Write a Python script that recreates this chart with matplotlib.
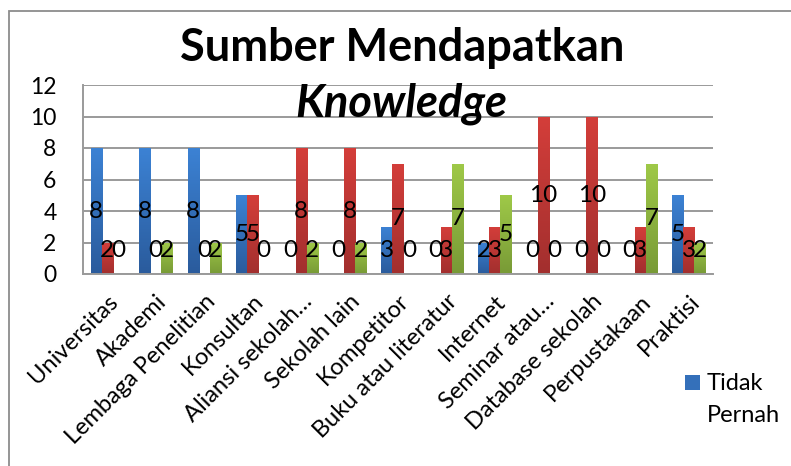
import matplotlib
matplotlib.use("Agg")
import matplotlib.pyplot as plt
import numpy as np
from matplotlib.patches import Rectangle
from matplotlib.colors import LinearSegmentedColormap

plt.rcParams['font.family'] = ['Lato', 'DejaVu Sans']

categories = ["Universitas", "Akademi", "Lembaga Penelitian", "Konsultan",
              "Aliansi sekolah…", "Sekolah lain", "Kompetitor",
              "Buku atau literatur", "Internet", "Seminar atau…",
              "Database sekolah", "Perpustakaan", "Praktisi"]
tidak_pernah = [8, 8, 8, 5, 0, 0, 3, 0, 2, 0, 0, 0, 5]
series2 = [2, 0, 0, 5, 8, 8, 7, 3, 3, 10, 10, 3, 3]
series3 = [0, 2, 2, 0, 2, 2, 0, 7, 5, 0, 0, 7, 2]
series_names = ["Tidak Pernah", "Series 2", "Series 3"]
title_line1 = "Sumber Mendapatkan"
title_line2 = "Knowledge"
yticks = [0, 2, 4, 6, 8, 10, 12]

W, H = 791, 466
fig = plt.figure(figsize=(W / 100, H / 100), dpi=100)
fig.patch.set_facecolor("white")

# outer chart border
fig.patches.append(Rectangle((9 / W, -0.1), 1.2, 1 - 11 / H + 0.1,
                             transform=fig.transFigure, fill=False,
                             edgecolor="#8c8c8c", linewidth=1.3, zorder=0))

ax = fig.add_axes([83 / W, 1 - 274 / H, (713 - 83) / W, (274 - 85) / H])
ax.set_facecolor("white")

n = len(categories)
x = np.arange(n)
bw = 0.227
offsets = [-bw, 0, bw]
grads = [("#3C82D4", "#2A5B9C"), ("#D43E3A", "#A22F2E"), ("#9FC948", "#789A36")]
all_series = [tidak_pernah, series2, series3]

ax.set_xlim(-0.5, n - 0.5)
ax.set_ylim(0, 12)

for vals, off, (ctop, cbot) in zip(all_series, offsets, grads):
    bars = ax.bar(x + off, vals, width=bw, color=cbot, linewidth=0, zorder=2)
    cmap = LinearSegmentedColormap.from_list("g", [cbot, ctop])
    grad = np.linspace(0, 1, 256).reshape(-1, 1)
    for b in bars:
        h = b.get_height()
        if h <= 0:
            continue
        x0 = b.get_x()
        im = ax.imshow(grad, cmap=cmap, aspect="auto", origin="lower",
                       extent=[x0, x0 + bw, 0, h], zorder=2.5)
        im.set_clip_path(b)
    for xi, v in zip(x + off, vals):
        ax.text(xi, max(v / 2, 1.5), str(v), ha="center", va="center",
                fontsize=17.5, color="black", zorder=5)

ax.set_yticks(yticks)
ax.set_yticklabels([str(t) for t in yticks], fontsize=16.5)
ax.set_xticks(x)
ax.set_xticklabels(categories, rotation=45, ha="right", va="top",
                   rotation_mode="anchor", fontsize=17)
ax.tick_params(axis="y", length=0, pad=19)
ax.tick_params(axis="x", length=0, pad=12)
ax.grid(axis="y", color="#9a9a9a", linewidth=1.4, zorder=1)
ax.set_axisbelow(True)
for s in ["right", "top"]:
    ax.spines[s].set_visible(False)
for s in ["left", "bottom"]:
    ax.spines[s].set_color("#9a9a9a")
    ax.spines[s].set_linewidth(1.4)

# title
fig.text(402 / W, 1 - 48 / H, title_line1, ha="center", va="center",
         fontsize=32.5, fontweight="bold", zorder=10)
fig.text(401 / W, 1 - 104 / H, title_line2, ha="center", va="center",
         fontsize=32.5, fontweight="bold", fontstyle="italic", zorder=10)

# legend (only first entry visible)
fig.patches.append(Rectangle((685 / W, 1 - 390 / H), 15 / W, 15 / H,
                             transform=fig.transFigure, facecolor="#3470BA",
                             edgecolor="none"))
fig.text(707 / W, 1 - 383 / H, "Tidak", ha="left", va="center", fontsize=17)
fig.text(707 / W, 1 - 415 / H, "Pernah", ha="left", va="center", fontsize=17)

fig.savefig("out.png", dpi=100)
